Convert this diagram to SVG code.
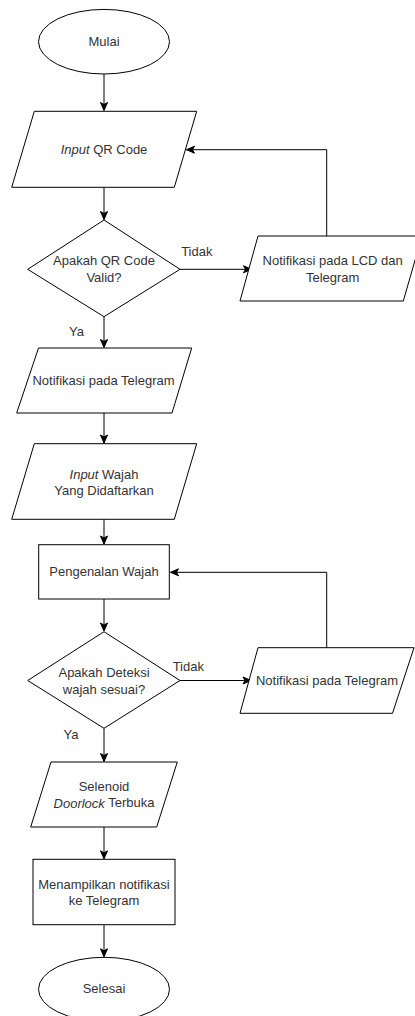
<svg xmlns="http://www.w3.org/2000/svg" width="415" height="1016" viewBox="0 0 415 1016">
<style>
.s{fill:#fff;stroke:#000;stroke-width:1}
.t{font-family:"Liberation Sans",Arial,sans-serif;font-size:13px;fill:#333;text-anchor:middle;dominant-baseline:central}
.c{fill:none;stroke:#000;stroke-width:1}
</style>
<defs>
<marker id="a" markerUnits="userSpaceOnUse" markerWidth="10" markerHeight="10" viewBox="0 0 10 10" refX="9" refY="5" orient="auto">
<path d="M1,1.5 L9,5 L1,8.5 L3,5 Z" fill="#000" stroke="#000" stroke-width="1"/>
</marker>
</defs>
<rect width="415" height="1016" fill="#fff"/>
<g id="connectors">
<path class="c" d="M104,74 L104,110.5" marker-end="url(#a)"/>
<path class="c" d="M104,187.3 L104,219.5" marker-end="url(#a)"/>
<path class="c" d="M180,269.3 L251.5,269.3" marker-end="url(#a)"/>
<path class="c" d="M326.7,236 L326.7,149.7 L186.5,149.7" marker-end="url(#a)"/>
<path class="c" d="M104,316.7 L104,347.5" marker-end="url(#a)"/>
<path class="c" d="M104,413 L104,443" marker-end="url(#a)"/>
<path class="c" d="M104,519.3 L104,544" marker-end="url(#a)"/>
<path class="c" d="M104,599 L104,631" marker-end="url(#a)"/>
<path class="c" d="M180,680.5 L251,680.5" marker-end="url(#a)"/>
<path class="c" d="M326.7,647.7 L326.7,572.3 L170.5,572.3" marker-end="url(#a)"/>
<path class="c" d="M104,728.3 L104,761.5" marker-end="url(#a)"/>
<path class="c" d="M104,827 L104,858.8" marker-end="url(#a)"/>
<path class="c" d="M104,924.7 L104,956.8" marker-end="url(#a)"/>
<text class="t" x="196.8" y="251.7">Tidak</text>
<text class="t" x="76.5" y="331.7">Ya</text>
<text class="t" x="188.3" y="666">Tidak</text>
<text class="t" x="71" y="734.3">Ya</text>
</g>
<g id="mulai">
<ellipse class="s" cx="104" cy="41.7" rx="65.5" ry="32.3"/>
<text class="t" x="104" y="41.7">Mulai</text>
</g>
<g id="input-qr">
<polygon class="s" points="34.3,111.3 196.7,111.3 174.3,187.3 11.7,187.3"/>
<text class="t" x="104" y="149"><tspan font-style="italic">Input</tspan> QR Code</text>
</g>
<g id="cek-qr">
<polygon class="s" points="104,220 180,269.3 104,316.7 27.7,269.3"/>
<text class="t" x="104" y="260.7">Apakah QR Code</text>
<text class="t" x="104" y="277.3">Valid?</text>
</g>
<g id="notif-lcd">
<polygon class="s" points="258,236 422,236 403.3,301 240,301"/>
<text class="t" x="332.7" y="260.7">Notifikasi pada LCD dan</text>
<text class="t" x="332.7" y="277.3">Telegram</text>
</g>
<g id="notif-telegram-1">
<polygon class="s" points="38.5,348 191.7,348 172,413 16.7,413"/>
<text class="t" x="103.5" y="380.7">Notifikasi pada Telegram</text>
</g>
<g id="input-wajah">
<polygon class="s" points="34.3,443.7 196.7,443.7 174.3,519.3 11.7,519.3"/>
<text class="t" x="104" y="474"><tspan font-style="italic">Input</tspan> Wajah</text>
<text class="t" x="104" y="490">Yang Didaftarkan</text>
</g>
<g id="pengenalan">
<rect class="s" x="38.7" y="544.7" width="130.6" height="54.3"/>
<text class="t" x="104" y="571.7">Pengenalan Wajah</text>
</g>
<g id="cek-wajah">
<polygon class="s" points="104,631.7 180,680.5 104,728.3 27.7,680.5"/>
<text class="t" x="104" y="672.7">Apakah Deteksi</text>
<text class="t" x="104" y="689">wajah sesuai?</text>
</g>
<g id="notif-telegram-2">
<polygon class="s" points="258,647.7 414,647.7 392.5,713.3 240,713.3"/>
<text class="t" x="327" y="680">Notifikasi pada Telegram</text>
</g>
<g id="selenoid">
<polygon class="s" points="51,762 177.3,762 156.7,827 30.7,827"/>
<text class="t" x="104" y="786">Selenoid</text>
<text class="t" x="104" y="802.7"><tspan font-style="italic">Doorlock</tspan> Terbuka</text>
</g>
<g id="menampilkan">
<rect class="s" x="33" y="859.3" width="142" height="65.4"/>
<text class="t" x="104" y="884">Menampilkan notifikasi</text>
<text class="t" x="104" y="900">ke Telegram</text>
</g>
<g id="selesai">
<ellipse class="s" cx="104" cy="989.3" rx="65.5" ry="32"/>
<text class="t" x="104" y="988.3">Selesai</text>
</g>
</svg>
